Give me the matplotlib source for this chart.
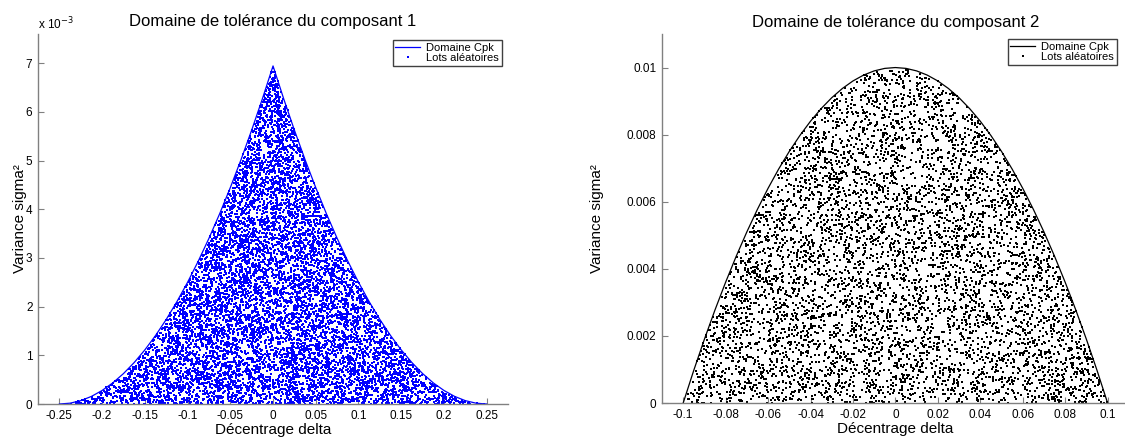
import numpy as np
import matplotlib
matplotlib.use("Agg")
import matplotlib.pyplot as plt
from matplotlib.ticker import FuncFormatter

plt.rcParams['font.family'] = ['Liberation Sans', 'DejaVu Sans']

# Domaine Cpk, composant 1 : variance max en fonction du décentrage (demi-courbe, delta >= 0)
delta1_half = [0.0, 0.0125, 0.025, 0.0375, 0.05, 0.0625, 0.075, 0.0875, 0.1, 0.1125,
               0.125, 0.1375, 0.15, 0.1625, 0.175, 0.1875, 0.2, 0.2125, 0.225, 0.2375, 0.25]
var1_half = [0.006944, 0.006267, 0.005625, 0.005017, 0.004444, 0.003906, 0.003403,
             0.002934, 0.0025, 0.002101, 0.001736, 0.001406, 0.001111, 0.000851,
             0.000625, 0.000434, 0.000278, 0.000156, 0.000069, 0.000017, 0.0]

# Domaine Cpk, composant 2
delta2_half = [0.0, 0.005, 0.01, 0.015, 0.02, 0.025, 0.03, 0.035, 0.04, 0.045, 0.05,
               0.055, 0.06, 0.065, 0.07, 0.075, 0.08, 0.085, 0.09, 0.095, 0.1]
var2_half = [0.01, 0.009975, 0.0099, 0.009775, 0.0096, 0.009375, 0.0091, 0.008775,
             0.0084, 0.007975, 0.0075, 0.006975, 0.0064, 0.005775, 0.0051, 0.004375,
             0.0036, 0.002775, 0.0019, 0.000975, 0.0]

xticks1 = ['-0.25', '-0.2', '-0.15', '-0.1', '-0.05', '0', '0.05', '0.1', '0.15', '0.2', '0.25']

# nombre de lots tirés pour chaque composant
n_lots1 = 30000
n_lots2 = 9500


def symetrique(d, v):
    d = np.asarray(d)
    v = np.asarray(v)
    return np.concatenate([-d[::-1], d[1:]]), np.concatenate([v[::-1], v[1:]])


def tirage_lots(d, v, n, seed):
    # lots aléatoires uniformes dans le rectangle, on garde ceux dans le domaine
    rng = np.random.default_rng(seed)
    dx = rng.uniform(d[0], d[-1], n)
    vy = rng.uniform(0, max(v), n)
    ok = vy <= np.interp(dx, d, v)
    return dx[ok], vy[ok]


d1, v1 = symetrique(delta1_half, var1_half)
d2, v2 = symetrique(delta2_half, var2_half)
lx1, ly1 = tirage_lots(d1, v1, n_lots1, 1)
lx2, ly2 = tirage_lots(d2, v2, n_lots2, 2)

fig = plt.figure(figsize=(11.25, 4.37), dpi=100)
ax1 = fig.add_axes([0.0338, 0.0755, 0.4178, 0.8467])
ax2 = fig.add_axes([0.5884, 0.0778, 0.415, 0.8444])

gris = '#808080'


def habillage(ax, pad_y):
    for s in ['top', 'right']:
        ax.spines[s].set_visible(False)
    for s in ['left', 'bottom']:
        ax.spines[s].set_color(gris)
        ax.spines[s].set_linewidth(1.0)
    ax.tick_params(direction='in', length=4, color=gris, labelsize=8.5, pad=4)
    ax.set_xlabel('Décentrage delta', fontsize=11, labelpad=1)
    ax.set_ylabel('Variance sigma²', fontsize=11, labelpad=pad_y)


def legende(ax, x, y):
    ax.legend(loc='upper right', bbox_to_anchor=(x, y),
              bbox_transform=fig.transFigure, fontsize=8, fancybox=False,
              edgecolor='#404040', framealpha=1, borderaxespad=0, borderpad=0.25,
              labelspacing=0.05, handlelength=2.2, handletextpad=0.6, markerscale=0.8)


# composant 1
ax1.plot(d1, v1, color='#0000ff', lw=0.9, label='Domaine Cpk')
ax1.plot(lx1, ly1, ls='none', marker='s', ms=2.0, mew=0, color='#0000ff',
         label='Lots aléatoires')
ax1.set_xlim(-0.275, 0.275)
ax1.set_ylim(0, 0.0076)
ax1.set_xticks(np.arange(-0.25, 0.26, 0.05))
ax1.set_xticklabels(xticks1)
ax1.set_yticks(np.arange(0, 0.0071, 0.001))
ax1.yaxis.set_major_formatter(FuncFormatter(lambda y, p: '%g' % round(y * 1000, 6)))
habillage(ax1, -1)
ax1.text(0.0, 1.005, 'x 10$^{-3}$', transform=ax1.transAxes, fontsize=8.5, ha='left',
         va='bottom')
ax1.set_title('Domaine de tolérance du composant 1', fontsize=12, pad=6)
legende(ax1, 0.4462, 0.9085)

# composant 2
ax2.plot(d2, v2, color='k', lw=0.9, label='Domaine Cpk')
ax2.plot(lx2, ly2, ls='none', marker='s', ms=2.0, mew=0, color='k',
         label='Lots aléatoires')
ax2.set_xlim(-0.11, 0.11)
ax2.set_ylim(0, 0.011)
ax2.set_xticks(np.arange(-0.1, 0.101, 0.02))
ax2.xaxis.set_major_formatter(FuncFormatter(lambda x, p: '%g' % round(x, 6)))
ax2.set_yticks(np.arange(0, 0.0101, 0.002))
ax2.yaxis.set_major_formatter(FuncFormatter(lambda y, p: '%g' % round(y, 6)))
habillage(ax2, 16)
ax2.set_title('Domaine de tolérance du composant 2', fontsize=12, pad=5)
legende(ax2, 0.9929, 0.9108)

fig.savefig('out.png', dpi=100, facecolor='white')
